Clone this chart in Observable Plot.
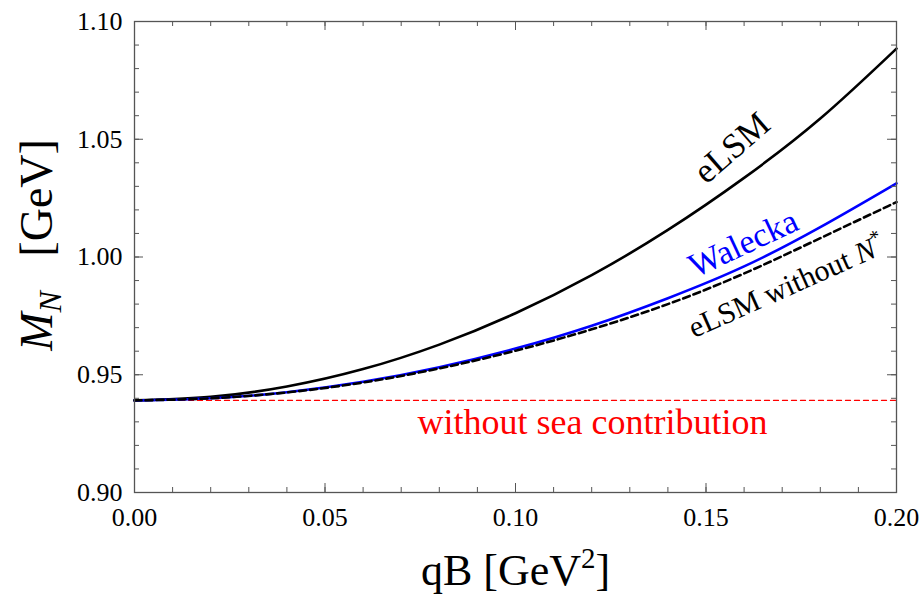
<!DOCTYPE html>
<html>
<head>
<meta charset="utf-8">
<script src="https://cdn.jsdelivr.net/npm/d3@7"></script>
<script src="https://cdn.jsdelivr.net/npm/@observablehq/plot@0.6"></script>
<style>
  html, body { margin: 0; padding: 0; background: #fff; }
  #chart svg { display: block; }
</style>
</head>
<body>
<div id="chart"></div>
<script>
// qB in GeV^2
const qB = [0, 0.02, 0.04, 0.06, 0.08, 0.10, 0.12, 0.14, 0.16, 0.18, 0.20];
// nucleon mass M_N in GeV
const eLSM        = [0.9391, 0.9406, 0.9450, 0.9524, 0.9628, 0.9761, 0.9923, 1.0115, 1.0336, 1.0588, 1.0885];
const walecka     = [0.9391, 0.9400, 0.9426, 0.9470, 0.9532, 0.9611, 0.9708, 0.9825, 0.9960, 1.0127, 1.0313];
const eLSMnoNstar = [0.9391, 0.9400, 0.9425, 0.9467, 0.9527, 0.9602, 0.9693, 0.9800, 0.9930, 1.0080, 1.0233];
const noSeaX = [0, 0.20];
const noSeaY = [0.9391, 0.9391];

const xMajor = [0, 0.05, 0.10, 0.15, 0.20];
const xMinor = d3.range(0, 0.2001, 0.01);
const yMajor = [0.90, 0.95, 1.00, 1.05, 1.10];
const yMinor = d3.range(0.90, 1.1001, 0.01);

const labelTexts = ["eLSM", "Walecka", "eLSM without N*", "without sea contribution"];
const labelX = [0.1568, 0.1598, 0.1712, 0.1202];
const labelY = [1.0464, 1.0057, 0.9875, 0.9297];

const zip = (xs, ys) => xs.map((x, i) => ({x, y: ys[i]}));
const labels = labelTexts.map((t, i) => ({t, x: labelX[i], y: labelY[i]}));

const W = 923, H = 600, mL = 134, mR = 27, mT = 21, mB = 108;
const pw = W - mL - mR, ph = H - mT - mB;
const tickCol = "#555";
const font = "'Liberation Serif', 'Times New Roman', serif";

const chart = Plot.plot({
  width: W, height: H,
  marginLeft: mL, marginRight: mR, marginTop: mT, marginBottom: mB,
  style: {fontFamily: font, background: "#fff", color: "#000"},
  x: {domain: [0, 0.2]},
  y: {domain: [0.9, 1.1]},
  marks: [
    // data curves
    Plot.line(zip(noSeaX, noSeaY), {x: "x", y: "y", stroke: "#ff0000", strokeWidth: 1.3, strokeDasharray: "5,4"}),
    Plot.line(zip(qB, eLSM), {x: "x", y: "y", stroke: "#000", strokeWidth: 2.6, curve: "natural"}),
    Plot.line(zip(qB, walecka), {x: "x", y: "y", stroke: "#0000ff", strokeWidth: 2.6, curve: "natural"}),
    Plot.line(zip(qB, eLSMnoNstar), {x: "x", y: "y", stroke: "#000", strokeWidth: 2.6, strokeDasharray: "7,4", curve: "natural"}),
    // frame
    Plot.frame({stroke: tickCol, strokeWidth: 1.3}),
    // inward ticks bottom / top
    Plot.tickX(xMajor, {x: d => d, stroke: tickCol, insetTop: ph - 9}),
    Plot.tickX(xMinor, {x: d => d, stroke: tickCol, insetTop: ph - 5}),
    Plot.tickX(xMajor, {x: d => d, stroke: tickCol, insetBottom: ph - 9}),
    Plot.tickX(xMinor, {x: d => d, stroke: tickCol, insetBottom: ph - 5}),
    // inward ticks left / right
    Plot.tickY(yMajor, {y: d => d, stroke: tickCol, insetRight: pw - 9}),
    Plot.tickY(yMinor, {y: d => d, stroke: tickCol, insetRight: pw - 5}),
    Plot.tickY(yMajor, {y: d => d, stroke: tickCol, insetLeft: pw - 9}),
    Plot.tickY(yMinor, {y: d => d, stroke: tickCol, insetLeft: pw - 5}),
    // tick labels
    Plot.axisX(xMajor, {tickSize: 0, tickPadding: 15, tickFormat: d3.format(".2f"), fontSize: 26, label: null, fill: "#000"}),
    Plot.axisY(yMajor, {tickSize: 0, tickPadding: 12, tickFormat: d3.format(".2f"), fontSize: 26, label: null, fill: "#000"}),
    // curve labels
    Plot.text(labels.slice(0, 1), {x: "x", y: "y", text: "t", rotate: -41, fontSize: 35, fill: "#000", className: "lbl-elsm"}),
    Plot.text(labels.slice(1, 2), {x: "x", y: "y", text: "t", rotate: -25, fontSize: 34, fill: "#0000ff", className: "lbl-walecka"}),
    Plot.text(labels.slice(2, 3), {x: "x", y: "y", text: "t", rotate: -24, fontSize: 30, fill: "#000", className: "lbl-nstar"}),
    Plot.text(labels.slice(3, 4), {x: "x", y: "y", text: "t", fontSize: 36, fill: "#ff0000", className: "lbl-sea"}),
    // axis titles
    Plot.text(["qB [GeV2]"], {frameAnchor: "bottom", dy: 92, textAnchor: "middle", text: d => d, fontSize: 44, fill: "#000", className: "ttl-x"}),
    Plot.text(["M_N [GeV]"], {frameAnchor: "left", dx: -97, dy: -12, textAnchor: "middle", rotate: -90, text: d => d, fontSize: 46, fill: "#000", className: "ttl-y"})
  ]
});

// rich text: superscripts, subscripts, italics
const s = d3.select(chart);
s.selectAll(".lbl-nstar text").html('eLSM without <tspan font-style="italic">N</tspan><tspan dy="-12" font-size="20">*</tspan>');
s.selectAll(".ttl-x text").html('qB [GeV<tspan dy="-17" font-size="29">2</tspan><tspan dy="17">]</tspan>');
s.selectAll(".ttl-y text").html('<tspan font-style="italic">M</tspan><tspan font-style="italic" font-size="32" dy="9">N</tspan><tspan dy="-9">\u00a0\u00a0\u00a0[GeV]</tspan>');

document.getElementById("chart").appendChild(chart);
</script>
</body>
</html>
